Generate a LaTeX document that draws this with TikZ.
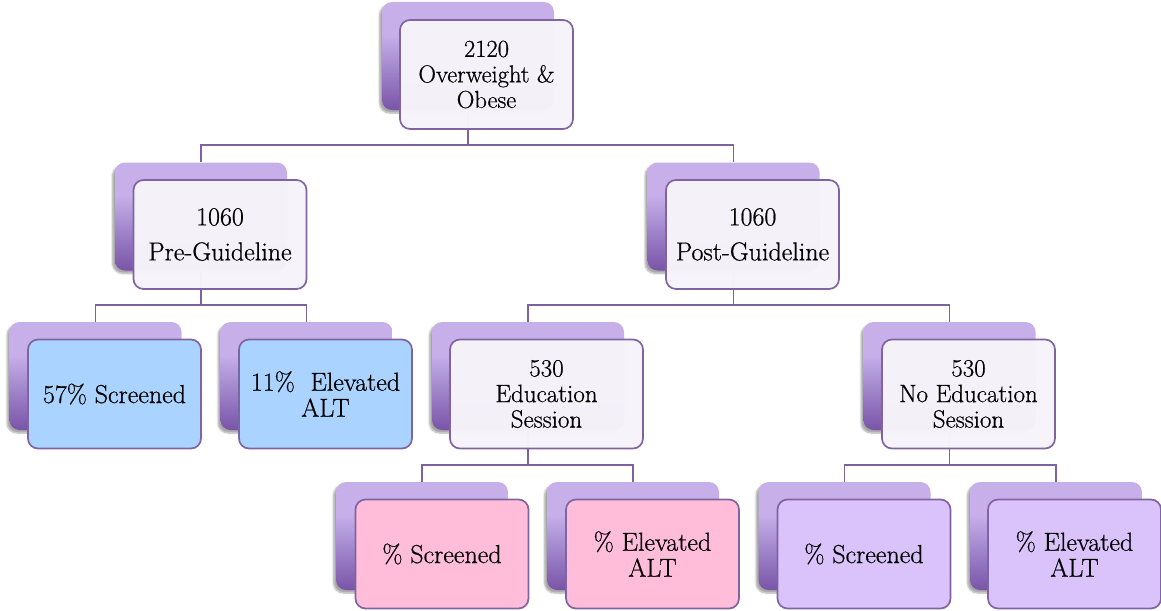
\documentclass[tikz,border=0pt]{standalone}
\usepackage{fontspec}
\setmainfont{Latin Modern Roman}[FakeBold=0.6]
\usetikzlibrary{shadows.blur}
\definecolor{bgtop}{RGB}{199,176,234}
\definecolor{bgmid}{RGB}{163,137,206}
\definecolor{bgbot}{RGB}{121,84,167}
\definecolor{edge}{RGB}{128,100,162}
\definecolor{linec}{RGB}{124,98,158}
\definecolor{fwhite}{RGB}{246,243,250}
\definecolor{fblue}{RGB}{170,212,255}
\definecolor{fpink}{RGB}{255,189,218}
\definecolor{flav}{RGB}{217,195,250}
\pgfdeclareverticalshading{backgrad}{100bp}{color(0bp)=(bgbot); color(25bp)=(bgbot); color(45bp)=(bgmid); color(60bp)=(bgtop); color(100bp)=(bgtop)}
\tikzset{
  backbox/.style={minimum width=172pt, minimum height=108pt, rounded corners=10pt,
    shading=backgrad, inner sep=0pt,
    blur shadow={shadow xshift=-2.5pt, shadow yshift=-3pt, shadow opacity=35, shadow blur steps=6}},
  frontbox/.style={draw=edge, line width=1.7pt, minimum width=173pt, minimum height=109pt,
    rounded corners=10pt, align=center, inner sep=2pt, text=black,
    font=\fontsize{26}{26}\selectfont},
  wfront/.style={frontbox, fill=fwhite, fill opacity=0.985, text opacity=1},
  conn/.style={draw=linec, line width=1.8pt},
}
\begin{document}
\begin{tikzpicture}[x=1pt,y=-1pt]
\useasboundingbox (0,0) rectangle (1161,610);
% back boxes
\node[backbox] (btop) at (468,56) {};
\node[backbox] (bpre) at (201,216.5) {};
\node[backbox] (bpost) at (733.5,216.5) {};
\node[backbox] (bs1) at (95.5,376) {};
\node[backbox] (be1) at (306.5,376) {};
\node[backbox, minimum width=192pt] (bedu) at (528,376) {};
\node[backbox] (bnoedu) at (949.5,376) {};
\node[backbox] (bs2) at (422,536) {};
\node[backbox] (be2) at (633,536) {};
\node[backbox] (bs3) at (844.5,536) {};
\node[backbox] (be3) at (1056,536) {};
% connectors
\draw[conn] (btop.south) -- ++(0,35) -| (bpre.north);
\draw[conn] (btop.south) -- ++(0,35) -| (bpost.north);
\draw[conn] (bpre.south) -- ++(0,34) -| (bs1.north);
\draw[conn] (bpre.south) -- ++(0,34) -| (be1.north);
\draw[conn] (bpost.south) -- ++(0,34) -| (bedu.north);
\draw[conn] (bpost.south) -- ++(0,34) -| (bnoedu.north);
\draw[conn] (bedu.south) -- ++(0,35) -| (bs2.north);
\draw[conn] (bedu.south) -- ++(0,35) -| (be2.north);
\draw[conn] (bnoedu.south) -- ++(0,35) -| (bs3.north);
\draw[conn] (bnoedu.south) -- ++(0,35) -| (be3.north);
% front boxes
\node[wfront, font=\fontsize{24.5}{25.5}\selectfont] (ftop) at (486.5,74.5) {2120\\Overweight \&\\Obese};
\node[wfront, font=\fontsize{26}{35}\selectfont] (fpre) at (220,234.5) {1060\\Pre-Guideline};
\node[wfront, font=\fontsize{26}{35}\selectfont] (fpost) at (752.5,234.5) {1060\\Post-Guideline};
\node[frontbox, fill=fblue] (fs1) at (114.5,394) {57\% Screened};
\node[frontbox, fill=fblue] (fe1) at (325.5,394) {11\%\ \ Elevated\\ALT};
\node[wfront, minimum width=193pt, font=\fontsize{25}{25.5}\selectfont] (fedu) at (546.5,394) {530\\Education\\Session};
\node[wfront, font=\fontsize{25}{25.5}\selectfont] (fnoedu) at (968.5,394) {530\\No Education\\Session};
\node[frontbox, fill=fpink] (fs2) at (442,554) {\% Screened};
\node[frontbox, fill=fpink] (fe2) at (652.5,554) {\% Elevated\\ALT};
\node[frontbox, fill=flav] (fs3) at (864,554) {\% Screened};
\node[frontbox, fill=flav] (fe3) at (1074.5,554) {\% Elevated\\ALT};
\end{tikzpicture}
\end{document}
